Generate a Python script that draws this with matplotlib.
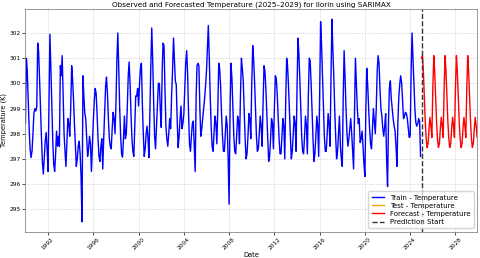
import pandas as pd
import matplotlib
matplotlib.use("Agg")
import matplotlib.pyplot as plt

# monthly mean temperature (K), Jan..Dec per row
train_temp = [
    298.4, 301.0, 300.5, 299.3, 298.2, 297.4, 297.05, 297.3, 298.0, 298.8, 299.0, 298.9,  # 1990
    299.05, 301.6, 301.3, 300.2, 299.0, 297.9, 296.9, 296.4, 297.1, 297.7, 298.05, 297.4,  # 1991
    296.5, 299.3, 301.95, 300.6, 299.1, 297.7, 296.8, 296.5, 297.2, 298.1, 297.5, 297.9,  # 1992
    297.5, 300.7, 300.3, 301.1, 299.6, 298.0, 297.3, 296.7, 297.7, 298.6, 298.4, 297.9,  # 1993
    299.0, 300.7, 300.2, 299.4, 298.4, 297.5, 296.7, 297.0, 297.5, 297.7, 297.2, 296.3,  # 1994
    294.5, 300.3, 299.5, 298.8, 298.6, 297.8, 297.1, 297.4, 297.9, 297.6, 296.5, 297.5,  # 1995
    298.5, 299.3, 299.8, 299.6, 298.8, 297.8, 297.1, 296.9, 297.5, 297.8, 296.6, 297.8,  # 1996
    298.8, 299.9, 300.25, 299.6, 298.6, 297.8, 297.5, 297.4, 298.2, 298.85, 298.6, 298.0,  # 1997
    299.2, 301.0, 302.0, 300.6, 299.0, 297.9, 297.2, 297.07, 297.8, 298.7, 297.8, 298.0,  # 1998
    299.0, 300.3, 300.85, 300.0, 298.8, 297.8, 297.3, 297.1, 298.3, 299.5, 299.5, 299.8,  # 1999
    299.1, 300.0, 300.6, 300.8, 299.2, 298.0, 297.1, 297.4, 298.0, 298.3, 297.8, 297.05,  # 2000
    299.0, 300.8, 302.2, 300.9, 299.3, 297.9, 297.4, 298.3, 299.2, 300.0, 300.0, 299.0,  # 2001
    298.25, 300.5, 301.6, 301.5, 299.8, 298.3, 297.8, 297.5, 298.0, 298.6, 298.2, 299.5,  # 2002
    300.5, 301.8, 301.0, 300.1, 299.95, 298.5, 297.45, 297.9, 298.6, 299.1, 298.2, 298.4,  # 2003
    298.8, 299.8, 300.8, 301.3, 300.4, 298.8, 297.6, 297.3, 297.9, 298.4, 298.5, 297.5,  # 2004
    296.5, 299.5, 300.7, 300.8, 300.7, 299.0, 297.9, 298.2, 298.6, 299.0, 299.4, 299.9,  # 2005
    300.5, 301.5, 302.3, 301.0, 299.5, 298.3, 297.5, 297.3, 298.0, 298.7, 298.4, 297.6,  # 2006
    299.0, 300.8, 300.6, 299.9, 298.8, 297.9, 297.3, 297.3, 298.0, 298.7, 298.3, 297.0,  # 2007
    295.2, 299.0, 300.8, 300.2, 299.0, 297.9, 297.3, 297.2, 297.9, 298.7, 298.5, 297.6,  # 2008
    299.5, 301.0, 300.6, 300.1, 298.9, 297.8, 297.0, 297.2, 297.9, 298.8, 298.6, 297.8,  # 2009
    300.0, 301.5, 301.0, 300.1, 299.0, 297.9, 297.3, 297.4, 298.0, 298.7, 298.3, 297.5,  # 2010
    299.2, 300.7, 300.5, 299.8, 298.8, 297.8, 296.9, 297.1, 297.8, 298.6, 298.4, 297.4,  # 2011
    299.0, 300.3, 300.2, 299.6, 298.7, 297.8, 297.2, 297.2, 297.9, 298.6, 298.3, 297.0,  # 2012
    299.3, 301.0, 300.7, 299.9, 298.9, 297.9, 297.0, 297.3, 298.0, 298.7, 298.4, 297.3,  # 2013
    299.8, 301.8, 301.2, 300.2, 299.0, 297.9, 297.3, 297.2, 297.9, 298.7, 298.3, 297.2,  # 2014
    299.5, 301.0, 300.9, 300.0, 298.9, 297.8, 296.9, 297.2, 297.9, 298.7, 298.3, 297.1,  # 2015
    299.5, 302.45, 301.6, 300.4, 299.1, 297.9, 297.3, 297.3, 298.0, 298.8, 298.4, 297.5,  # 2016
    300.2, 302.55, 301.4, 300.3, 299.0, 297.9, 297.0, 297.3, 298.0, 298.7, 297.5, 297.0,  # 2017
    296.7, 299.5, 301.3, 300.2, 299.0, 298.0, 297.5, 297.8, 298.2, 298.6, 298.0, 297.3,  # 2018
    296.6, 299.0, 301.0, 300.0, 299.0, 298.4, 298.6, 297.65, 297.8, 298.1, 297.5, 296.8,  # 2019
    296.3, 299.0, 300.6, 299.9, 299.0, 298.2, 297.6, 297.4, 298.2, 299.0, 298.5, 298.0,  # 2020
    299.0, 300.5, 301.1, 300.8, 299.8, 299.0, 298.7, 298.2, 297.9, 298.3, 298.8, 297.0,  # 2021
    295.9, 298.5, 299.8, 300.1, 299.4, 299.0, 298.6, 298.3, 298.1, 297.5, 296.7, 298.5,  # 2022
    299.5, 300.0, 300.3, 300.0, 299.3, 298.6, 298.7, 298.85, 298.8, 298.6, 298.2, 297.85,  # 2023
    297.9, 300.5, 302.0, 301.0, 300.0, 299.0, 298.45, 298.3, 298.4, 298.6, 298.5, 297.1,  # 2024
]

forecast_temp = [
    301.0, 301.1, 300.5, 299.5, 298.5, 297.8, 297.45, 297.6, 298.2, 298.65, 298.3, 297.85,  # 2025
    299.8, 301.1, 300.5, 299.5, 298.5, 297.8, 297.45, 297.6, 298.2, 298.65, 298.3, 297.85,  # 2026
    299.8, 301.1, 300.5, 299.5, 298.5, 297.8, 297.45, 297.6, 298.2, 298.65, 298.3, 297.85,  # 2027
    299.8, 301.1, 300.5, 299.5, 298.5, 297.8, 297.45, 297.6, 298.2, 298.65, 298.3, 297.85,  # 2028
    299.8, 301.1, 300.5, 299.5, 298.5, 297.8, 297.45, 297.6, 298.2, 298.65, 298.3, 297.85,  # 2029
]
test_temp = []

train_dates = pd.date_range("1990-01-01", periods=len(train_temp), freq="MS")
forecast_dates = pd.date_range("2025-01-01", periods=len(forecast_temp), freq="MS")
test_dates = forecast_dates[:len(test_temp)]
split_date = pd.Timestamp("2025-01-01")

fig = plt.figure(figsize=(4.8, 2.58), dpi=100)
ax = fig.add_axes([0.053, 0.101, 0.941, 0.864])

ax.plot(train_dates, train_temp, color="blue", lw=1.0, label="Train - Temperature")
ax.plot(test_dates, test_temp, color="orange", lw=1.0, label="Test - Temperature")
ax.plot(forecast_dates, forecast_temp, color="red", lw=1.0, label="Forecast - Temperature")
ax.axvline(split_date, color="#333333", ls="--", lw=1.0, label="Prediction Start")

ax.set_xlim(train_dates[0], forecast_dates[-1])
ax.set_title("Observed and Forecasted Temperature (2025\u20132029) for Ilorin using SARIMAX",
             fontsize=5.2, pad=2)
ax.set_xlabel("Date", fontsize=4.8, labelpad=1)
ax.set_ylabel("Temperature (K)", fontsize=4.8, labelpad=2)
ax.tick_params(labelsize=4.2, length=2, width=0.5, pad=1.5)
plt.setp(ax.get_xticklabels(), rotation=45)
ax.grid(True, ls="--", lw=0.4, alpha=0.6)
for s in ax.spines.values():
    s.set_linewidth(0.6)
    s.set_color("#888888")
ax.legend(loc="lower right", fontsize=5.0, frameon=True, handlelength=1.8,
          borderpad=0.5, labelspacing=0.3)

fig.savefig("out.png", dpi=100)
